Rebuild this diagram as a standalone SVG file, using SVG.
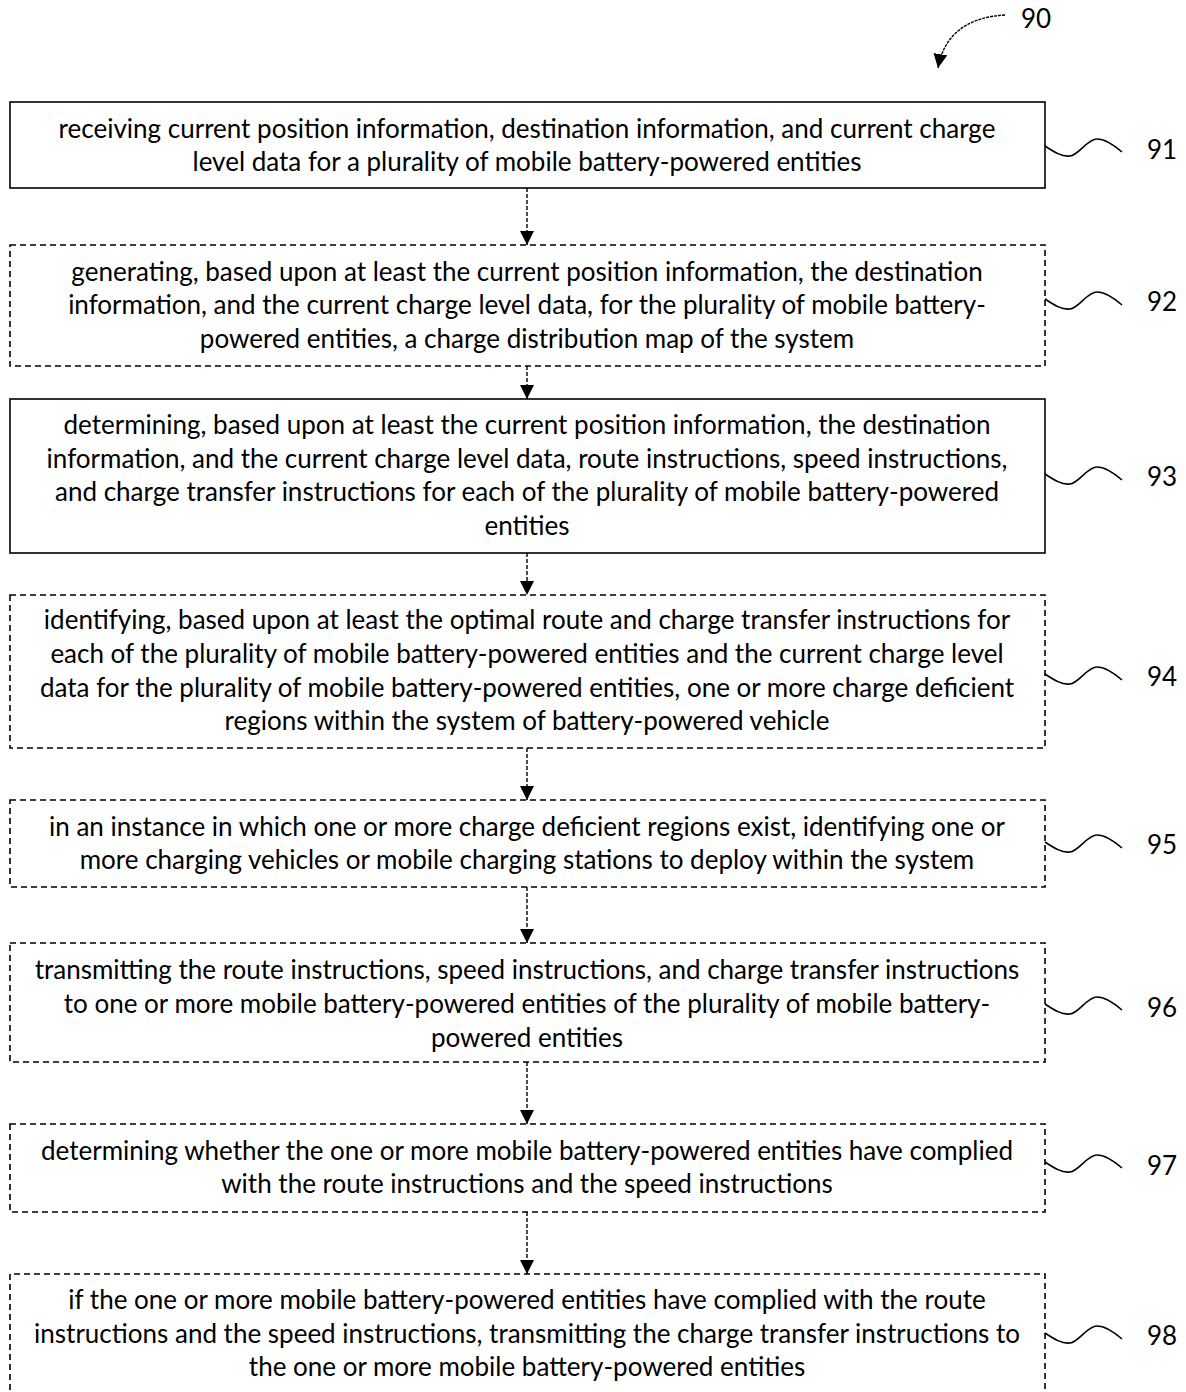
<svg xmlns="http://www.w3.org/2000/svg" width="1186" height="1392" viewBox="0 0 1186 1392">
<defs>
<style>
.box{fill:#fff;stroke:#000;stroke-width:1.6}
.dash{stroke-dasharray:6 4}
.t{font-family:Lato,"Open Sans","Liberation Sans",sans-serif;font-size:26px;fill:#000;text-anchor:middle}
.lbl{font-family:Lato,"Open Sans","Liberation Sans",sans-serif;font-size:26px;fill:#000}
.conn{stroke:#000;stroke-width:1.4;fill:none;stroke-dasharray:4 2}
.sq{stroke:#000;stroke-width:1.6;fill:none}
</style>
<marker id="ah2" viewBox="0 0 10 10" refX="10" refY="5" markerWidth="14" markerHeight="14" markerUnits="userSpaceOnUse" orient="auto">
<path d="M0,0 L10,5 L0,10 Z" fill="#000"/>
</marker>
<path id="squig" d="M0,0 C9,6 17,11 25,10 C34,9 42,-7 52,-7 C61,-7 70,0 77,6"/>
</defs>
<rect width="1186" height="1392" fill="#fff"/>

<g id="ref90">
<path class="sq" d="M1005,15 C968,17 944,34 938,68" marker-end="url(#ah2)" style="stroke-width:1.4;stroke-dasharray:3 1"/>
<text class="lbl" x="1021" y="28">90</text>
</g>

<g id="connectors">
<line class="conn" x1="527" y1="188" x2="527" y2="245" marker-end="url(#ah2)"/>
<line class="conn" x1="527" y1="366" x2="527" y2="399" marker-end="url(#ah2)"/>
<line class="conn" x1="527" y1="553" x2="527" y2="595" marker-end="url(#ah2)"/>
<line class="conn" x1="527" y1="748" x2="527" y2="800" marker-end="url(#ah2)"/>
<line class="conn" x1="527" y1="887" x2="527" y2="943" marker-end="url(#ah2)"/>
<line class="conn" x1="527" y1="1062" x2="527" y2="1124" marker-end="url(#ah2)"/>
<line class="conn" x1="527" y1="1212" x2="527" y2="1274" marker-end="url(#ah2)"/>
</g>

<g id="n91">
<rect class="box" x="10" y="102" width="1035" height="86"/>
<text class="t" x="527" y="138">receiving current position information, destination information, and current charge</text>
<text class="t" x="527" y="171">level data for a plurality of mobile battery-powered entities</text>
<use href="#squig" class="sq" transform="translate(1045,146)"/>
<text class="lbl" x="1147" y="159">91</text>
</g>

<g id="n92">
<rect class="box dash" x="10" y="245" width="1035" height="121"/>
<text class="t" x="527" y="281">generating, based upon at least the current position information, the destination</text>
<text class="t" x="527" y="314">information, and the current charge level data, for the plurality of mobile battery-</text>
<text class="t" x="527" y="348">powered entities, a charge distribution map of the system</text>
<use href="#squig" class="sq" transform="translate(1045,299)"/>
<text class="lbl" x="1147" y="311">92</text>
</g>

<g id="n93">
<rect class="box" x="10" y="399" width="1035" height="154"/>
<text class="t" x="527" y="434">determining, based upon at least the current position information, the destination</text>
<text class="t" x="527" y="468">information, and the current charge level data, route instructions, speed instructions,</text>
<text class="t" x="527" y="501">and charge transfer instructions for each of the plurality of mobile battery-powered</text>
<text class="t" x="527" y="535">entities</text>
<use href="#squig" class="sq" transform="translate(1045,474)"/>
<text class="lbl" x="1147" y="486">93</text>
</g>

<g id="n94">
<rect class="box dash" x="10" y="595" width="1035" height="153"/>
<text class="t" x="527" y="629">identifying, based upon at least the optimal route and charge transfer instructions for</text>
<text class="t" x="527" y="663">each of the plurality of mobile battery-powered entities and the current charge level</text>
<text class="t" x="527" y="697">data for the plurality of mobile battery-powered entities, one or more charge deficient</text>
<text class="t" x="527" y="730">regions within the system of battery-powered vehicle</text>
<use href="#squig" class="sq" transform="translate(1045,674)"/>
<text class="lbl" x="1147" y="686">94</text>
</g>

<g id="n95">
<rect class="box dash" x="10" y="800" width="1035" height="87"/>
<text class="t" x="527" y="836">in an instance in which one or more charge deficient regions exist, identifying one or</text>
<text class="t" x="527" y="869">more charging vehicles or mobile charging stations to deploy within the system</text>
<use href="#squig" class="sq" transform="translate(1045,842)"/>
<text class="lbl" x="1147" y="854">95</text>
</g>

<g id="n96">
<rect class="box dash" x="10" y="943" width="1035" height="119"/>
<text class="t" x="527" y="979">transmitting the route instructions, speed instructions, and charge transfer instructions</text>
<text class="t" x="527" y="1013">to one or more mobile battery-powered entities of the plurality of mobile battery-</text>
<text class="t" x="527" y="1047">powered entities</text>
<use href="#squig" class="sq" transform="translate(1045,1004)"/>
<text class="lbl" x="1147" y="1017">96</text>
</g>

<g id="n97">
<rect class="box dash" x="10" y="1124" width="1035" height="88"/>
<text class="t" x="527" y="1160">determining whether the one or more mobile battery-powered entities have complied</text>
<text class="t" x="527" y="1193">with the route instructions and the speed instructions</text>
<use href="#squig" class="sq" transform="translate(1045,1162)"/>
<text class="lbl" x="1147" y="1175">97</text>
</g>

<g id="n98">
<path class="box dash" d="M10,1400 L10,1274 L1045,1274 L1045,1400" fill="#fff"/>
<text class="t" x="527" y="1309">if the one or more mobile battery-powered entities have complied with the route</text>
<text class="t" x="527" y="1343">instructions and the speed instructions, transmitting the charge transfer instructions to</text>
<text class="t" x="527" y="1376">the one or more mobile battery-powered entities</text>
<use href="#squig" class="sq" transform="translate(1045,1333)"/>
<text class="lbl" x="1147" y="1345">98</text>
</g>
</svg>
